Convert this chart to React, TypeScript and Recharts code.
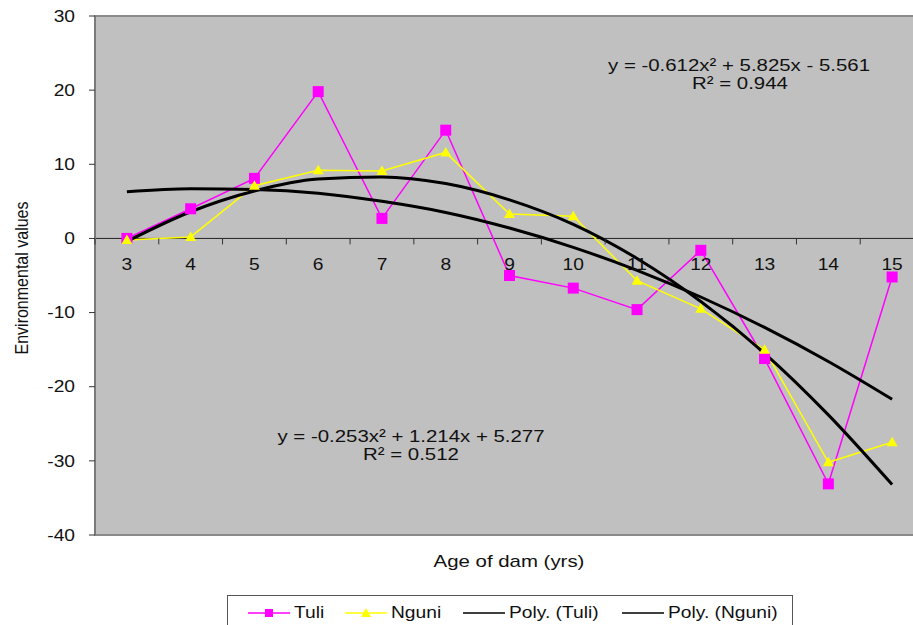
import React from 'react';
import { LineChart, Line, XAxis, YAxis, CartesianGrid, ReferenceLine, ReferenceArea } from 'recharts';

// Age of dam (yrs)
const ages = [3, 4, 5, 6, 7, 8, 9, 10, 11, 12, 13, 14, 15];
// Environmental values
const tuli = [0, 4.0, 8.1, 19.8, 2.7, 14.6, -5.0, -6.7, -9.6, -1.6, -16.2, -33.1, -5.2];
const nguni = [-0.2, 0.2, 7.1, 9.2, 9.1, 11.6, 3.3, 3.0, -5.7, -9.5, -15.0, -30.2, -27.5];
// trend curves read at each age
const polyTuli = [6.3, 6.7, 6.6, 6.1, 5.0, 3.5, 1.4, -1.2, -4.3, -7.9, -12.0, -16.6, -21.7];
const polyNguni = [-0.4, 3.6, 6.4, 8.0, 8.3, 7.4, 5.2, 1.9, -2.7, -8.5, -15.5, -23.8, -33.2];
const yTicks = [30, 20, 10, 0, -10, -20, -30, -40];

const data = ages.map((age, i) => ({
  age,
  tuli: tuli[i],
  nguni: nguni[i],
  polyTuli: polyTuli[i],
  polyNguni: polyNguni[i],
}));

const W = 930;
const H = 625;
const X_AXIS_H = 30;
const M = { top: 16, right: 6, bottom: 60, left: 0 };
const Y_AXIS_W = 95;
const PLOT_H = H - M.top - M.bottom - X_AXIS_H;
const PLOT_W = W - M.left - M.right - Y_AXIS_W;
const Y_MIN = -40;
const Y_MAX = 30;
const ZERO_Y = M.top + (PLOT_H * Y_MAX) / (Y_MAX - Y_MIN);
const BAND = PLOT_W / ages.length;

const FONT = "'Liberation Sans', Arial, sans-serif";
const TXT = '#111';

const XTick = (props: any) => {
  const { x, payload } = props;
  return (
    <g>
      <line x1={x - BAND / 2} x2={x - BAND / 2} y1={ZERO_Y} y2={ZERO_Y + 6} stroke="#333" strokeWidth={1} />
      <text
        transform={`translate(${x},${ZERO_Y + 32}) scale(1.2,1)`}
        textAnchor="middle"
        fontFamily={FONT}
        fontSize={16}
        fill={TXT}
      >
        {payload.value}
      </text>
    </g>
  );
};

const YTick = (props: any) => {
  const { x, y, payload } = props;
  return (
    <text
      transform={`translate(${x},${y}) scale(1.2,1)`}
      textAnchor="end"
      dy="0.36em"
      fontFamily={FONT}
      fontSize={16}
      fill={TXT}
    >
      {payload.value}
    </text>
  );
};

const SquareDot = (p: any) => (
  <rect key={`sq-${p.index}`} x={p.cx - 5.5} y={p.cy - 5.5} width={11} height={11} fill="#ff00ff" />
);

const TriDot = (p: any) => (
  <polygon
    key={`tri-${p.index}`}
    points={`${p.cx},${p.cy - 5.5} ${p.cx - 5.5},${p.cy + 4} ${p.cx + 5.5},${p.cy + 4}`}
    fill="#ffff00"
  />
);

const stretched: React.CSSProperties = {
  position: 'absolute',
  fontFamily: FONT,
  fontSize: 16,
  color: TXT,
  whiteSpace: 'nowrap',
  lineHeight: '18px',
};

function Centered({ x, y, size = 17, children }: { x: number; y: number; size?: number; children: React.ReactNode }) {
  return (
    <div style={{ ...stretched, fontSize: size, left: x, top: y, transform: 'translateX(-50%) scaleX(1.2)' }}>
      {children}
    </div>
  );
}

function LegendItem({ left, color, marker, label }: { left: number; color: string; marker?: 'sq' | 'tri'; label: string }) {
  return (
    <div style={{ position: 'absolute', left, top: 0, height: 34 }}>
      <svg width={44} height={34} style={{ position: 'absolute', left: 0, top: 0 }}>
        <line x1={0} x2={42} y1={17} y2={17} stroke={color} strokeWidth={1.5} />
        {marker === 'sq' && <rect x={17} y={13} width={8} height={8} fill={color} />}
        {marker === 'tri' && <polygon points="21,12 16,21 26,21" fill={color} />}
      </svg>
      <div style={{ ...stretched, left: 46, top: 8, transform: 'scaleX(1.2)', transformOrigin: 'left center' }}>{label}</div>
    </div>
  );
}

export default function App() {
  return (
    <div style={{ position: 'absolute', left: 0, top: 0, width: 913, height: 625, overflow: 'hidden', background: '#fff' }}>
      <LineChart width={W} height={H} data={data} margin={M}>
        <CartesianGrid horizontal={false} vertical={false} fill="#c0c0c0" />
        <XAxis
          dataKey="age"
          type="number"
          domain={[2.5, 15.5]}
          ticks={ages}
          height={X_AXIS_H}
          axisLine={false}
          tickLine={false}
          tick={<XTick />}
          interval={0}
          allowDataOverflow
        />
        <YAxis
          width={Y_AXIS_W}
          domain={[Y_MIN, Y_MAX]}
          ticks={yTicks}
          interval={0}
          tickSize={6}
          tickMargin={14}
          axisLine={{ stroke: '#7a7a7a', strokeWidth: 2 }}
          tickLine={{ stroke: '#333' }}
          tick={<YTick />}
          allowDataOverflow
        />
        <ReferenceArea x1={2.5} x2={15.5} y1={Y_MIN} y2={Y_MAX} fill="none" stroke="#8a8a8a" strokeWidth={2} />
        <ReferenceLine y={0} stroke="#222" strokeWidth={1} />
        <Line dataKey="tuli" type="linear" stroke="#ff00ff" strokeWidth={1.5} dot={SquareDot} isAnimationActive={false} />
        <Line dataKey="nguni" type="linear" stroke="#ffff00" strokeWidth={1.5} dot={TriDot} isAnimationActive={false} />
        <Line dataKey="polyTuli" type="monotone" stroke="#000" strokeWidth={3} dot={false} isAnimationActive={false} />
        <Line dataKey="polyNguni" type="monotone" stroke="#000" strokeWidth={3} dot={false} isAnimationActive={false} />
      </LineChart>

      {/* trendline equations */}
      <Centered x={739} y={57}>y = -0.612x² + 5.825x - 5.561</Centered>
      <Centered x={740} y={75}>R² = 0.944</Centered>
      <Centered x={411} y={428}>y = -0.253x² + 1.214x + 5.277</Centered>
      <Centered x={411} y={446}>R² = 0.512</Centered>

      {/* axis titles */}
      <Centered x={509} y={553}>Age of dam (yrs)</Centered>
      <div
        style={{
          ...stretched,
          left: 22,
          top: 278,
          transform: 'translate(-50%,-50%) scaleX(1.2) rotate(-90deg)',
        }}
      >
        Environmental values
      </div>

      {/* legend */}
      <div
        style={{
          position: 'absolute',
          left: 227,
          top: 595,
          width: 566,
          height: 40,
          border: '1.5px solid #555',
          boxSizing: 'border-box',
          background: '#fff',
        }}
      >
        <LegendItem left={20} color="#ff00ff" marker="sq" label="Tuli" />
        <LegendItem left={117} color="#ffff00" marker="tri" label="Nguni" />
        <LegendItem left={235} color="#000" label="Poly. (Tuli)" />
        <LegendItem left={394} color="#000" label="Poly. (Nguni)" />
      </div>
    </div>
  );
}
